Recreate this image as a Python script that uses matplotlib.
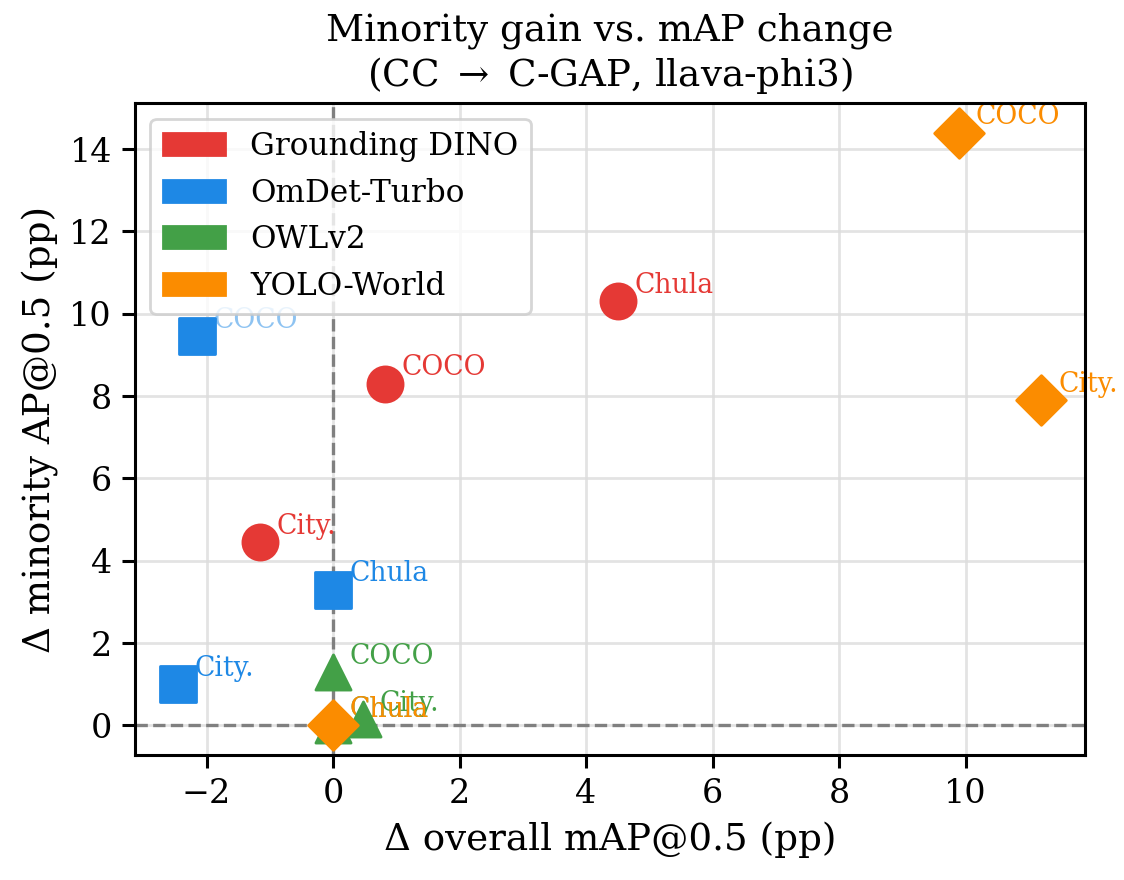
import matplotlib
matplotlib.use("Agg")
import matplotlib.pyplot as plt
from matplotlib.patches import Patch

plt.rcParams['font.family'] = ['DejaVu Serif']
plt.rcParams['mathtext.fontset'] = 'dejavuserif'

models = ["Grounding DINO", "OmDet-Turbo", "OWLv2", "YOLO-World"]
colors = ["#e53935", "#1e88e5", "#43a047", "#fb8c00"]
markers = ["o", "s", "^", "D"]
datasets = ["COCO", "Chula", "City."]

# delta overall mAP@0.5 per model, order = datasets
d_map = {
    "Grounding DINO": [0.82, 4.5, -1.15],
    "OmDet-Turbo": [-2.15, 0.0, -2.45],
    "OWLv2": [0.0, 0.0, 0.47],
    "YOLO-World": [9.9, 0.0, 11.2],
}
# delta minority AP@0.5
d_min = {
    "Grounding DINO": [8.3, 10.3, 4.45],
    "OmDet-Turbo": [9.45, 3.3, 1.0],
    "OWLv2": [1.3, 0.0, 0.15],
    "YOLO-World": [14.4, 0.0, 7.9],
}

fig, ax = plt.subplots(figsize=(5.62, 4.4), dpi=200)
fig.subplots_adjust(left=0.12, right=0.965, bottom=0.142, top=0.883)

ax.axhline(0, color="gray", ls="--", lw=1.2, zorder=1)
ax.axvline(0, color="gray", ls="--", lw=1.2, zorder=1)

for m, c, mk in zip(models, colors, markers):
    ax.scatter(d_map[m], d_min[m], s=160, marker=mk, color=c, zorder=3)
    for x, y, ds in zip(d_map[m], d_min[m], datasets):
        a = 0.5 if (m == "OmDet-Turbo" and ds == "COCO") else 1.0
        ax.annotate(ds, (x, y), xytext=(6, 3), textcoords="offset points",
                    fontsize=9.6, color=c, alpha=a, zorder=2)

ax.grid(True, color="#dddddd", lw=1.0, alpha=0.8)
ax.set_axisbelow(True)
for sp in ax.spines.values():
    sp.set_linewidth(1.1)
ax.set_xlabel("Δ overall mAP@0.5 (pp)", fontsize=13.4)
ax.set_ylabel("Δ minority AP@0.5 (pp)", fontsize=13.4)
ax.set_title("Minority gain vs. mAP change\n(CC $\\rightarrow$ C-GAP, llava-phi3)", fontsize=13.4)
ax.tick_params(labelsize=12, length=4.8, width=1.1)

handles = [Patch(color=c, label=m) for m, c in zip(models, colors)]
leg = ax.legend(handles=handles, loc="upper left", fontsize=11.2)
leg.get_frame().set_linewidth(1.0)

fig.savefig("out.png")
